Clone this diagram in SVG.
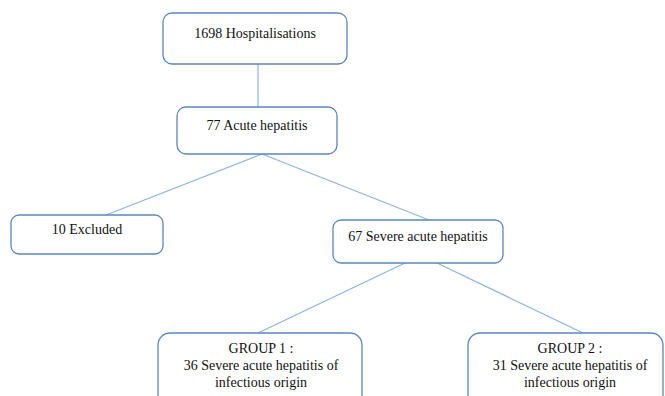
<svg xmlns="http://www.w3.org/2000/svg" width="665" height="396" viewBox="0 0 665 396">
<style>
.box{fill:#fff;stroke:#5a86c2;stroke-width:1.3}
.c line{stroke:#8db3e2;stroke-width:1.2}
</style>
<rect width="665" height="396" fill="#fff"/>
<g class="c" id="connectors">
<line x1="258" y1="64" x2="258" y2="107"/>
<line x1="262" y1="154" x2="106" y2="215"/>
<line x1="262" y1="154" x2="429" y2="220"/>
<line x1="405" y1="263" x2="258" y2="333"/>
<line x1="437" y1="263" x2="583" y2="333"/>
</g>
<g font-family="Liberation Serif, Times New Roman, serif" font-size="14" fill="#111" text-anchor="middle">
<g id="n1"><rect class="box" x="163" y="13" width="184" height="51" rx="9"/><text x="255" y="38">1698 Hospitalisations</text></g>
<g id="n2"><rect class="box" x="177" y="107" width="160" height="47" rx="9"/><text x="257" y="130">77 Acute hepatitis</text></g>
<g id="n3"><rect class="box" x="11" y="215" width="152" height="39" rx="8"/><text x="87" y="234">10 Excluded</text></g>
<g id="n4"><rect class="box" x="333" y="220" width="170" height="43" rx="8"/><text x="418" y="241">67 Severe acute hepatitis</text></g>
<g id="n5"><rect class="box" x="158" y="333" width="204" height="80" rx="12"/><text x="261" y="353">GROUP 1 :</text><text x="261" y="370">36 Severe acute hepatitis of</text><text x="261" y="387">infectious origin</text></g>
<g id="n6"><rect class="box" x="468" y="333" width="195" height="80" rx="12"/><text x="570" y="353">GROUP 2 :</text><text x="570" y="370">31 Severe acute hepatitis of</text><text x="570" y="387">infectious origin</text></g>
</g>
</svg>
